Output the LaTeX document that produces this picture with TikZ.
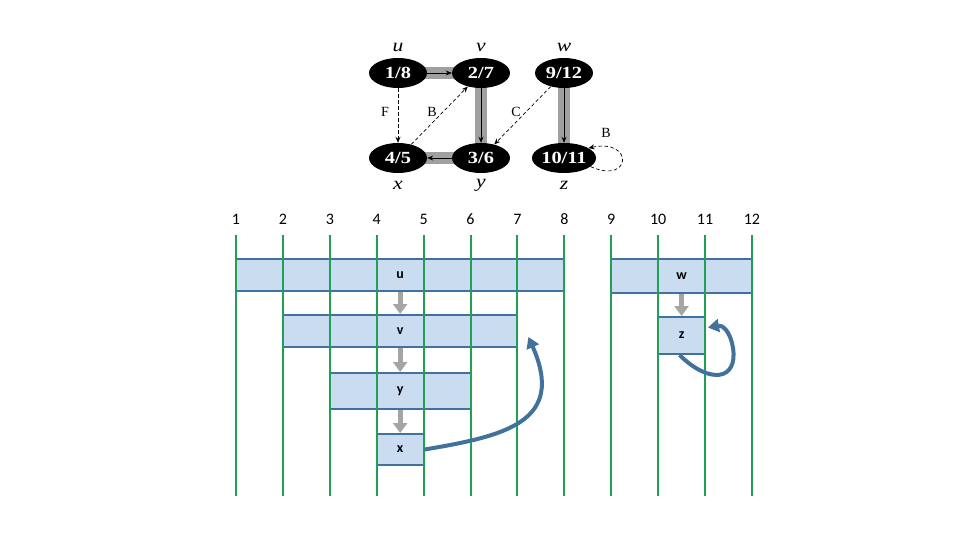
\documentclass[tikz,border=0pt]{standalone}
\usepackage{fontspec}
\setmainfont{Carlito}
\newfontfamily\bookfont{Liberation Serif}
\usetikzlibrary{shapes.geometric,arrows.meta,backgrounds,calc}
\definecolor{lineg}{HTML}{1FA055}
\definecolor{boxfill}{HTML}{C9DCF0}
\definecolor{boxedge}{HTML}{41719C}
\definecolor{garrow}{HTML}{A5A5A5}
\definecolor{band}{HTML}{A0A0A0}
\tikzset{
  vert/.style={ellipse,fill=black,minimum width=58pt,minimum height=30pt,inner sep=0pt,text=white,font=\bookfont\bfseries\fontsize{17}{17}\selectfont},
  vname/.style={font=\bookfont\itshape\fontsize{18}{18}\selectfont,inner sep=0pt},
  elabel/.style={font=\bookfont\fontsize{14}{14}\selectfont,inner sep=0pt},
  treeband/.style={line width=12pt,band},
  treearrow/.style={line width=0.8pt,-{Stealth[length=6pt,width=5pt]}},
  nontree/.style={line width=0.7pt,dash pattern=on 3.5pt off 2.5pt,-{Stealth[length=6pt,width=5pt]}},
  tick/.style={lineg,line width=2pt},
  num/.style={font=\fontsize{16}{16}\selectfont,inner sep=0pt},
  ivbox/.style={rectangle,draw=boxedge,line width=2pt,fill=boxfill,inner sep=0pt,font=\bfseries\fontsize{14}{14}\selectfont},
  grayarrow/.style={garrow,line width=5pt,-{Triangle[width=14pt,length=10pt]}},
  bluearrow/.style={boxedge,line width=4pt,-{Triangle[width=13pt,length=11pt]}}
}
\begin{document}
\begin{tikzpicture}[x=1pt,y=-1pt]
\useasboundingbox (0,0) rectangle (960,540);
% ---------- top graph ----------
\node[vert] (gu) at (398,73) {\scalebox{1.2}[1]{1/8}};
\node[vert] (gv) at (481,73) {\scalebox{1.2}[1]{2/7}};
\node[vert] (gw) at (564,73) {\scalebox{1.2}[1]{9/12}};
\node[vert] (gx) at (398,158) {\scalebox{1.2}[1]{4/5}};
\node[vert] (gy) at (481,158) {\scalebox{1.2}[1]{3/6}};
\node[vert] (gz) at (564,158) {\scalebox{1.2}[1]{10/11}};
\node[vname] (lu) at (398,47) {\scalebox{1.2}[1]{u}};
\node[vname] (lv) at (481,47) {\scalebox{1.2}[1]{v}};
\node[vname] (lw) at (564,47) {\scalebox{1.2}[1]{w}};
\node[vname] (lx) at (398,185) {\scalebox{1.2}[1]{x}};
\node[vname] (ly) at (481,185) {\scalebox{1.2}[1]{y}};
\node[vname] (lz) at (564,185) {\scalebox{1.2}[1]{z}};
\begin{scope}[on background layer]
\draw[treeband] (gu.center) -- (gv.center);
\draw[treeband] (gv.center) -- (gy.center);
\draw[treeband] (gy.center) -- (gx.center);
\draw[treeband] (gw.center) -- (gz.center);
\end{scope}
\draw[treearrow] (gu) -- (gv);
\draw[treearrow] (gv) -- (gy);
\draw[treearrow] (gy) -- (gx);
\draw[treearrow] (gw) -- (gz);
\draw[nontree] (gu) -- (gx);
\draw[nontree] (gx) -- (gv);
\draw[nontree] (gw) -- (gy);
\draw[nontree] (gz.-18) .. controls (632,185) and (634,138) .. (gz.22);
\node[elabel] (lf) at (385,112) {F};
\node[elabel] (lb1) at (432,112) {B};
\node[elabel] (lc) at (516,112) {C};
\node[elabel] (lb2) at (606,133) {B};
% ---------- bottom timeline ----------
\foreach \i in {1,...,12} {
  \coordinate (t\i) at ({236+46.9*(\i-1)},235);
  \coordinate (b\i) at ({236+46.9*(\i-1)},496);
}
\node[ivbox,minimum width=328.3pt,minimum height=32pt] (bu) at (400.15,275) {u};
\node[ivbox,minimum width=234.5pt,minimum height=32pt] (bv) at (400.15,331) {v};
\node[ivbox,minimum width=140.7pt,minimum height=36pt] (by) at (400.15,391) {y};
\node[ivbox,minimum width=46.9pt,minimum height=31pt] (bx) at (400.15,449.5) {x};
\node[ivbox,minimum width=140.7pt,minimum height=34pt] (bw) at (681.55,276) {w};
\node[ivbox,minimum width=46.9pt,minimum height=37pt] (bz) at (681.55,335.5) {z};
\foreach \i in {1,...,12} {
  \draw[tick] (t\i) -- (b\i);
  \node[num] (n\i) at ({236+46.9*(\i-1)},219) {\i};
}
\draw[grayarrow] (bu.south) -- (bv.north);
\draw[grayarrow] (bv.south) -- (by.north);
\draw[grayarrow] (by.south) -- (bx.north);
\draw[grayarrow] (bw.south) -- (bz.north);
\draw[bluearrow] (bx.east) .. controls (505,436) and (566,422) .. ($(bv.east)+(10,6)$);
\draw[bluearrow] ($(bz.south)+(-2,0)$) .. controls (710,385) and (738,380) .. (733,348) .. controls (730,330) and (722,325) .. ($(bz.east)+(2,-8)$);
\end{tikzpicture}
\end{document}
